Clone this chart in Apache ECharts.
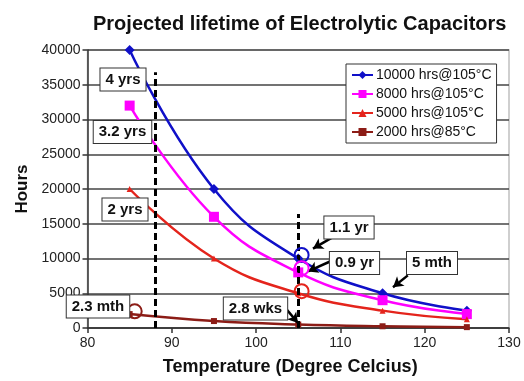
<!DOCTYPE html>
<html>
<head>
<meta charset="utf-8">
<script src="https://cdn.jsdelivr.net/npm/echarts@6/dist/echarts.min.js"></script>
<style>
  html, body { margin: 0; padding: 0; background: #fff; }
  #chart { width: 524px; height: 381px; }
</style>
</head>
<body>
<div id="chart"></div>
<script>
// Temperatures where the lifetime is evaluated (°C)
const temperatures = [85, 95, 105, 115, 125];

// Projected lifetime in hours for each capacitor rating
const life10000at105 = [40000, 20000, 10000, 5000, 2500];
const life8000at105  = [32000, 16000, 8000, 4000, 2000];
const life5000at105  = [20000, 10000, 5000, 2500, 1250];
const life2000at85   = [2000, 1000, 500, 250, 125];

const seriesNames = ['10000 hrs@105°C', '8000 hrs@105°C', '5000 hrs@105°C', '2000 hrs@85°C'];

// Axis ticks
const xTicks = [80, 90, 100, 110, 120, 130];
const yTicks = [0, 5000, 10000, 15000, 20000, 25000, 30000, 35000, 40000];

// Callout texts
const calloutTexts = ['4 yrs', '3.2 yrs', '2 yrs', '2.3 mth', '2.8 wks', '1.1 yr', '0.9 yr', '5 mth'];

const FONT = '"Liberation Sans", Arial, Helvetica, sans-serif';
const colors = ['#1010c8', '#ff00ff', '#e4241c', '#8c1c16'];

function pairs(values) {
  return temperatures.map((t, i) => [t, values[i]]);
}

const ringStyle = (c) => ({ color: 'rgba(0,0,0,0)', borderColor: c, borderWidth: 2 });

const arrowLine = {
  silent: true,
  symbol: ['none', 'arrow'],
  symbolSize: [9, 10],
  label: { show: false },
  lineStyle: { color: '#000', width: 2.5, type: 'solid' }
};

const chart = echarts.init(document.getElementById('chart'), null, { renderer: 'canvas' });

function baseSeries(name, values, color, symbol, size) {
  return {
    name: name,
    type: 'line',
    data: pairs(values),
    smooth: 0.45,
    symbol: symbol,
    symbolSize: size,
    showSymbol: true,
    lineStyle: { color: color, width: 2.5 },
    itemStyle: { color: color },
    emphasis: { disabled: true },
    z: 3
  };
}

const s1 = baseSeries(seriesNames[0], life10000at105, colors[0], 'diamond', 10);
s1.markPoint = {
  silent: true, symbol: 'circle', symbolSize: 14, label: { show: false },
  itemStyle: ringStyle(colors[0]),
  data: [{ coord: [105.4, 10500] }]
};
// Pointers to the 1.1 yr and 5 mth values
s1.markLine = Object.assign({}, arrowLine, {
  data: [
    [{ coord: [109.0, 13000] }, { coord: [106.75, 11430] }],
    [{ coord: [118.0, 7570] }, { coord: [116.24, 5860] }]
  ]
});

const s2 = baseSeries(seriesNames[1], life8000at105, colors[1], 'rect', 10);
s2.markPoint = {
  silent: true, symbol: 'circle', symbolSize: 14, label: { show: false },
  itemStyle: ringStyle(colors[1]),
  data: [{ coord: [105.4, 8600] }]
};
s2.markLine = Object.assign({}, arrowLine, {
  data: [
    [{ coord: [108.77, 9570] }, { coord: [106.16, 8140] }]
  ]
});

const s3 = baseSeries(seriesNames[2], life5000at105, colors[2], 'triangle', 6);
s3.markPoint = {
  silent: true, symbol: 'circle', symbolSize: 14, label: { show: false },
  itemStyle: ringStyle(colors[2]),
  data: [{ coord: [105.4, 5300] }]
};
// Dashed reference lines at 88°C and 105°C
s3.markLine = {
  silent: true,
  symbol: ['none', 'none'],
  label: { show: false },
  lineStyle: { color: '#000', width: 3, type: [7, 4] },
  data: [
    [{ coord: [88, 0] }, { coord: [88, 36800] }],
    [{ coord: [105, 0] }, { coord: [105, 16400] }]
  ]
};

const s4 = baseSeries(seriesNames[3], life2000at85, colors[3], 'rect', 6);
s4.markPoint = {
  silent: true, symbol: 'circle', symbolSize: 14, label: { show: false },
  itemStyle: ringStyle(colors[3]),
  data: [{ coord: [85.6, 2400] }]
};
s4.markLine = Object.assign({}, arrowLine, {
  data: [
    [{ coord: [103.19, 3290] }, { coord: [104.97, 710] }]
  ]
});

// Callout box centres in pixels
const calloutCentres = [
  [123, 79.5], [122.5, 132], [125, 209.5], [98, 306.5],
  [255.5, 308.5], [349, 227.5], [354.5, 263], [432, 263]
];

const callouts = calloutTexts.map((t, i) => ({
  type: 'text',
  z: 100,
  x: calloutCentres[i][0],
  y: calloutCentres[i][1],
  style: {
    text: t,
    font: 'bold 15px ' + FONT,
    fill: '#111',
    align: 'center',
    verticalAlign: 'middle',
    backgroundColor: '#fff',
    borderColor: '#333',
    borderWidth: 1,
    padding: [4, 5, 3, 5]
  }
}));

const option = {
  animation: false,
  backgroundColor: '#fff',
  textStyle: { fontFamily: FONT },
  title: {
    text: 'Projected lifetime of Electrolytic Capacitors',
    left: 88,
    top: 9,
    textStyle: { fontFamily: FONT, fontWeight: 'bold', fontSize: 20, color: '#111' }
  },
  legend: {
    orient: 'vertical',
    left: 346,
    top: 64,
    padding: [4, 5, 4, 5],
    itemGap: 5,
    itemWidth: 21,
    itemHeight: 10,
    backgroundColor: '#fff',
    borderColor: '#333',
    borderWidth: 1,
    borderRadius: 0,
    selectedMode: false,
    data: seriesNames,
    textStyle: { fontFamily: FONT, fontSize: 14, color: '#111', padding: [0, 0, 0, -2] },
    z: 50
  },
  grid: {
    left: 87.5,
    right: 15,
    top: 50,
    bottom: 51,
    show: true,
    borderColor: '#c0c0c0',
    borderWidth: 1.5,
    containLabel: false
  },
  xAxis: {
    type: 'value',
    min: xTicks[0],
    max: xTicks[xTicks.length - 1],
    interval: 10,
    name: 'Temperature (Degree Celcius)',
    nameLocation: 'middle',
    nameGap: 30,
    nameTextStyle: { fontFamily: FONT, fontWeight: 'bold', fontSize: 18, color: '#111', padding: [0, 16, 0, 0] },
    axisLine: { show: true, onZero: false, lineStyle: { color: '#333', width: 1.5 } },
    axisTick: { show: true, length: 5, inside: false, lineStyle: { color: '#333', width: 1.5 } },
    axisLabel: { fontFamily: FONT, fontSize: 14, color: '#222', margin: 8 },
    splitLine: { show: false }
  },
  yAxis: {
    type: 'value',
    min: yTicks[0],
    max: yTicks[yTicks.length - 1],
    interval: 5000,
    name: 'Hours',
    nameLocation: 'middle',
    nameGap: 56,
    nameRotate: 90,
    nameTextStyle: { fontFamily: FONT, fontWeight: 'bold', fontSize: 17, color: '#111' },
    axisLine: { show: true, lineStyle: { color: '#333', width: 1.5 } },
    axisTick: { show: true, length: 5, inside: false, lineStyle: { color: '#333', width: 1.5 } },
    axisLabel: {
      fontFamily: FONT, fontSize: 14, color: '#222', margin: 7,
      formatter: (v) => String(v)
    },
    splitLine: { show: true, lineStyle: { color: '#444', width: 1.5 } }
  },
  graphic: callouts,
  series: [s1, s2, s3, s4]
};

chart.setOption(option);
</script>
</body>
</html>
